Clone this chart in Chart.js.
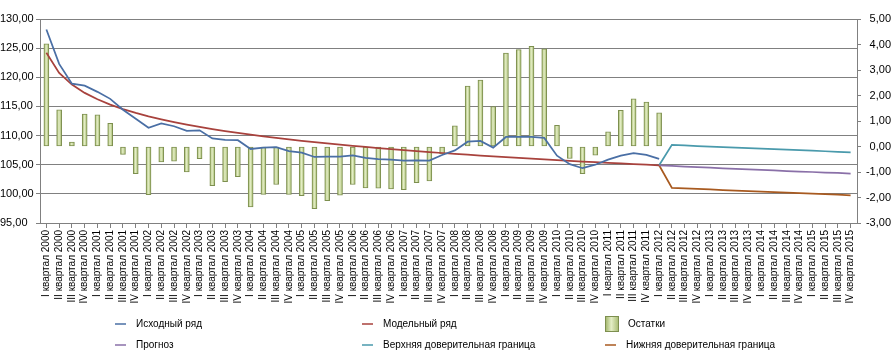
<!DOCTYPE html>
<html>
<head>
<meta charset="utf-8">
<script src="https://cdn.jsdelivr.net/npm/chart.js@4.4.1/dist/chart.umd.min.js"></script>
<style>
  html, body { margin: 0; padding: 0; background: #fff; }
</style>
</head>
<body>
<canvas id="myChart" width="891" height="354"></canvas>
<script>
var years = [2000, 2001, 2002, 2003, 2004, 2005, 2006, 2007, 2008, 2009, 2010, 2011, 2012, 2013, 2014, 2015];
var quarters = ['I', 'II', 'III', 'IV'];

// I 2000 .. I 2012
var original = [128.2, 122.3, 118.9, 118.56, 117.5, 116.3, 114.44, 112.9, 111.35, 112.1,
  111.6, 110.8, 110.9, 109.5, 109.25, 109.2, 107.7, 107.93, 108.0, 107.35,
  107.07, 106.33, 106.38, 106.38, 106.6, 106.16, 105.98, 105.87, 105.7, 105.75,
  105.7, 106.67, 107.46, 108.95, 109.07, 107.93, 109.76, 109.76, 109.76, 109.6,
  106.55, 105.1, 104.4, 105.0, 105.87, 106.55, 107.0, 106.7, 106.0];

var model = [124.2, 120.76, 118.75, 117.32, 116.22, 115.31, 114.55, 113.89, 113.3, 112.78,
  112.31, 111.87, 111.48, 111.11, 110.77, 110.45, 110.15, 109.87, 109.6, 109.34,
  109.1, 108.87, 108.65, 108.44, 108.23, 108.04, 107.85, 107.67, 107.5, 107.33,
  107.17, 107.01, 106.86, 106.71, 106.57, 106.42, 106.29, 106.16, 106.03, 105.9,
  105.78, 105.66, 105.55, 105.43, 105.32, 105.21, 105.1, 105.0, 104.9];

var residuals = [4.03, 1.44, 0.17, 1.27, 1.24, 0.91, -0.31, -1.07, -1.89, -0.6,
  -0.58, -1.0, -0.48, -1.54, -1.38, -1.18, -2.37, -1.88, -1.49, -1.88,
  -1.93, -2.44, -2.12, -1.91, -1.49, -1.62, -1.63, -1.66, -1.69, -1.42,
  -1.35, -0.29, 0.81, 2.37, 2.6, 1.57, 3.66, 3.8, 3.93, 3.83,
  0.83, -0.47, -1.07, -0.34, 0.58, 1.42, 1.87, 1.74, 1.32];

// I 2012 .. IV 2015
var forecastStart = 48;
var forecast = [104.9, 104.79, 104.68, 104.58, 104.48, 104.38, 104.29, 104.19,
  104.1, 104.01, 103.92, 103.83, 103.75, 103.66, 103.58, 103.49];
var upper = [104.9, 108.4, 108.31, 108.21, 108.12, 108.03, 107.94, 107.85,
  107.76, 107.67, 107.58, 107.49, 107.4, 107.31, 107.22, 107.13];
var lower = [104.9, 101.02, 100.93, 100.84, 100.75, 100.66, 100.57, 100.48,
  100.39, 100.3, 100.21, 100.12, 100.03, 99.94, 99.85, 99.76];

var labels = [];
years.forEach(function (y) {
  quarters.forEach(function (q) { labels.push(q + ' квартал ' + y); });
});

function pad(arr) {
  var out = [];
  for (var i = 0; i < forecastStart; i++) out.push(null);
  return out.concat(arr);
}

function fmt(v) { return v.toFixed(2).replace('.', ','); }

var FONT = '"Liberation Sans", Arial, sans-serif';
Chart.defaults.font.family = FONT;
Chart.defaults.font.size = 11;
Chart.defaults.color = '#000';

function barGradient(ctx, x, w) {
  var g = ctx.createLinearGradient(x - w / 2, 0, x + w / 2, 0);
  g.addColorStop(0, '#9bb062');
  g.addColorStop(0.45, '#e4eec6');
  g.addColorStop(1, '#a3b86c');
  return g;
}

// cylinder-ish shading on the residual bars
var barShade = {
  id: 'barShade',
  beforeDatasetsDraw: function (chart) {
    var meta = chart.getDatasetMeta(2);
    meta.data.forEach(function (el) {
      el.options = Object.assign({}, el.options, { backgroundColor: barGradient(chart.ctx, el.x, el.width) });
    });
  }
};

// legend drawn by hand, 3 columns x 2 rows like the original
var legendPlugin = {
  id: 'bottomLegend',
  afterDraw: function (chart) {
    var ctx = chart.ctx;
    var cols = [115, 362, 605];
    var rows = [324, 345];
    ctx.save();
    ctx.font = '10px ' + FONT;
    ctx.textBaseline = 'middle';
    chart.data.datasets.forEach(function (ds, k) {
      var x = cols[k % 3], y = rows[Math.floor(k / 3)];
      ctx.fillStyle = '#000';
      if (ds.type === 'bar') {
        ctx.fillStyle = barGradient(ctx, x + 7, 14);
        ctx.fillRect(x, y - 8, 14, 16);
        ctx.strokeStyle = '#7d8f4f';
        ctx.lineWidth = 1;
        ctx.strokeRect(x + 0.5, y - 7.5, 13, 15);
        ctx.fillStyle = '#000';
        ctx.fillText(ds.label, x + 23, y);
      } else {
        ctx.strokeStyle = ds.borderColor;
        ctx.lineWidth = 1.5;
        ctx.beginPath();
        ctx.moveTo(x, y);
        ctx.lineTo(x + 11, y);
        ctx.stroke();
        ctx.fillText(ds.label, x + 21, y);
      }
    });
    ctx.restore();
  }
};

var ctx = document.getElementById('myChart').getContext('2d');
var myChart = new Chart(ctx, {
  type: 'bar',
  data: {
    labels: labels,
    datasets: [{
      type: 'line',
      label: 'Исходный ряд',
      data: original,
      borderColor: '#4a6fa5',
      borderWidth: 1.75,
      pointRadius: 0,
      yAxisID: 'y',
      order: 1
    }, {
      type: 'line',
      label: 'Модельный ряд',
      data: model,
      borderColor: '#a8423d',
      borderWidth: 1.75,
      pointRadius: 0,
      yAxisID: 'y',
      order: 1
    }, {
      type: 'bar',
      label: 'Остатки',
      data: residuals,
      backgroundColor: '#c5d89a',
      borderColor: '#7d8f4f',
      borderWidth: 1,
      borderSkipped: false,
      barThickness: 5,
      yAxisID: 'y1',
      order: 2
    }, {
      type: 'line',
      label: 'Прогноз',
      data: pad(forecast),
      borderColor: '#8a70a8',
      borderWidth: 1.75,
      pointRadius: 0,
      yAxisID: 'y',
      order: 1
    }, {
      type: 'line',
      label: 'Верхняя доверительная граница',
      data: pad(upper),
      borderColor: '#4a9aac',
      borderWidth: 1.75,
      pointRadius: 0,
      yAxisID: 'y',
      order: 1
    }, {
      type: 'line',
      label: 'Нижняя доверительная граница',
      data: pad(lower),
      borderColor: '#a85a20',
      borderWidth: 1.75,
      pointRadius: 0,
      yAxisID: 'y',
      order: 1
    }]
  },
  options: {
    responsive: false,
    animation: false,
    layout: { padding: { top: 19, bottom: 50, left: 0, right: 0 } },
    plugins: {
      legend: { display: false },
      tooltip: { enabled: false }
    },
    scales: {
      x: {
        offset: true,
        grid: { display: true, drawOnChartArea: false, offset: false, tickLength: 5, color: '#808080' },
        border: { color: '#808080' },
        ticks: { autoSkip: false, minRotation: 90, maxRotation: 90, padding: 2, font: { size: 10 } },
        afterFit: function (s) { s.height = 81; }
      },
      y: {
        position: 'left',
        min: 95, max: 130,
        grid: { color: '#808080', tickLength: 4 },
        border: { color: '#808080' },
        ticks: { stepSize: 5, crossAlign: 'far', callback: function (v) { return fmt(v); } },
        afterFit: function (s) { s.width = 40; }
      },
      y1: {
        position: 'right',
        min: -3, max: 5,
        grid: { drawOnChartArea: false, color: '#808080', tickLength: 4 },
        border: { color: '#808080' },
        ticks: { stepSize: 1, crossAlign: 'far', callback: function (v) { return fmt(v); } },
        afterFit: function (s) { s.width = 34; }
      }
    }
  },
  plugins: [barShade, legendPlugin]
});
</script>
</body>
</html>
